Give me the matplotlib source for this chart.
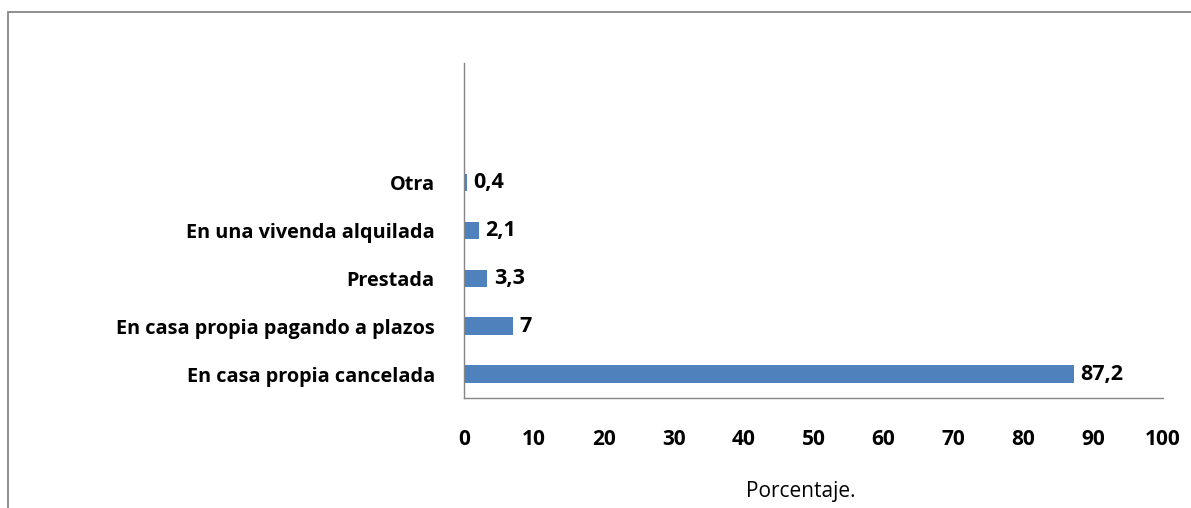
import matplotlib.pyplot as plt
from matplotlib.patches import Rectangle

# Data
categorias = ["En casa propia cancelada", "En casa propia pagando a plazos",
              "Prestada", "En una vivenda alquilada", "Otra"]
porcentajes = [87.2, 7, 3.3, 2.1, 0.4]
etiquetas = ["87,2", "7", "3,3", "2,1", "0,4"]
ticks_x = [0, 10, 20, 30, 40, 50, 60, 70, 80, 90, 100]

W, H = 1191, 508
AXIS_GRAY = "#868686"
BAR_BLUE = "#4f81bd"
FS = 14.3

plt.rcParams["font.family"] = ["Open Sans", "DejaVu Sans"]

fig = plt.figure(figsize=(W / 100, H / 100), dpi=100)
fig.patch.set_facecolor("white")

# axes box in pixels: x 464..1163, y 63..398 (from top)
left, right, top, bottom = 464, 1163, 63, 398
ax = fig.add_axes([left / W, 1 - bottom / H, (right - left) / W, (bottom - top) / H])

y = list(range(len(categorias)))
ax.barh(y, porcentajes, height=0.37, color=BAR_BLUE)

for yi, v, lab in zip(y, porcentajes, etiquetas):
    ax.annotate(lab, (v, yi), xytext=(5, 0), textcoords="offset points",
                ha="left", va="center", fontsize=15.5, fontweight="bold")

ax.set_xlim(0, 100)
ax.set_ylim(-0.5, 6.5)
ax.set_xticks(ticks_x)
ax.set_xticklabels([str(t) for t in ticks_x], fontsize=15, fontweight="bold")
ax.set_yticks(y)
ax.set_yticklabels(categorias, fontsize=FS, fontweight="bold")
ax.tick_params(axis="both", length=0)
ax.tick_params(axis="x", pad=22)
ax.tick_params(axis="y", pad=21)

for s in ["top", "right"]:
    ax.spines[s].set_visible(False)
for s in ["left", "bottom"]:
    ax.spines[s].set_color(AXIS_GRAY)
    ax.spines[s].set_linewidth(1.0)

fig.text(801 / W, 1 - 492 / H, "Porcentaje.", ha="center", va="center", fontsize=15)

# outer chart frame (cropped at right and bottom)
frame = Rectangle((8 / W, -0.1), 1.2, 1 - 12 / H + 0.1, transform=fig.transFigure,
                  fill=False, edgecolor=AXIS_GRAY, linewidth=1.3, clip_on=False)
fig.patches.append(frame)

fig.savefig("out.png", dpi=100)
